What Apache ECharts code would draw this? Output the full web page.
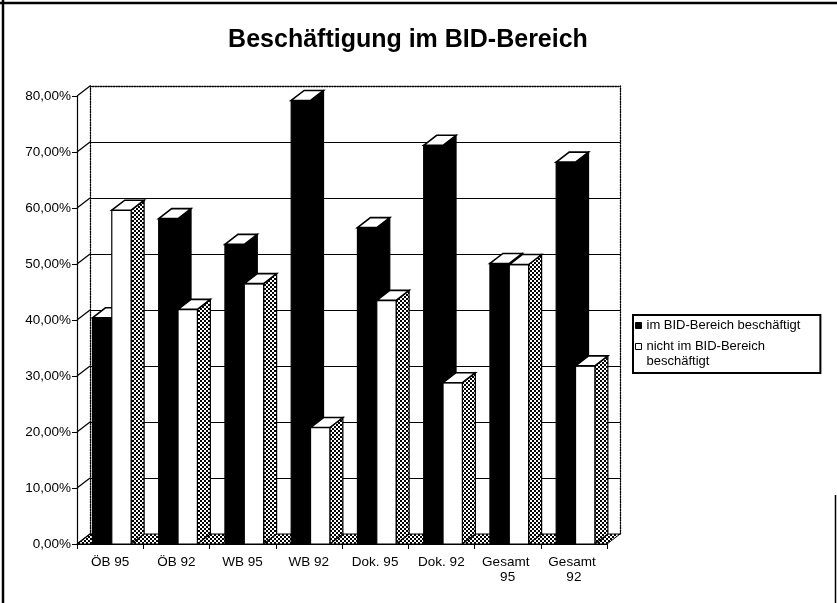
<!DOCTYPE html>
<html><head><meta charset="utf-8">
<script src="https://cdn.jsdelivr.net/npm/echarts@6/dist/echarts.min.js"></script>
<style>html,body{margin:0;padding:0;background:#fff}#c{width:837px;height:603px}</style>
</head><body><div id="c"></div>
<script>
const categories = ['ÖB 95', 'ÖB 92', 'WB 95', 'WB 92', 'Dok. 95', 'Dok. 92', 'Gesamt 95', 'Gesamt 92'];
const seriesNames = ['im BID-Bereich beschäftigt', 'nicht im BID-Bereich beschäftigt'];
const employed = [0.404, 0.581, 0.535, 0.792, 0.565, 0.712, 0.501, 0.682];
const notEmployed = [0.596, 0.419, 0.465, 0.208, 0.435, 0.288, 0.499, 0.318];
const yTicks = [0, 0.1, 0.2, 0.3, 0.4, 0.5, 0.6, 0.7, 0.8];
const titleText = 'Beschäftigung im BID-Bereich';

const FONT = '"Liberation Sans", Arial, sans-serif';
const DX = 13, DY = 10;

const pc = document.createElement('canvas');
pc.width = 4; pc.height = 4;
const g = pc.getContext('2d');
g.fillStyle = '#fff'; g.fillRect(0, 0, 4, 4);
g.fillStyle = '#000'; g.fillRect(0, 0, 2, 2); g.fillRect(2, 2, 2, 2);
const hatch = { image: pc, repeat: 'repeat' };

function pct(v) { return (v * 100).toFixed(2).replace('.', ',') + '%'; }

function barRender(which) {
  return function (params, api) {
    const i = api.value(0), v = api.value(1);
    const base = api.coord([i, 0]);
    const top = api.coord([i, v]);
    const W = api.size([1, 0])[0];
    const left = base[0] - W / 2;
    const bw = W * 0.292;
    const x0 = left + W * 0.233 + (which === 1 ? bw : 0);
    const x1 = x0 + bw;
    const y0 = base[1], yt = top[1];
    return {
      type: 'group',
      children: [
        { type: 'polygon', shape: { points: [[x1, yt], [x1 + DX, yt - DY], [x1 + DX, y0 - DY], [x1, y0]] },
          style: { fill: which === 0 ? '#000' : hatch, stroke: '#000', lineWidth: 1.2 } },
        { type: 'rect', shape: { x: x0, y: yt, width: bw, height: y0 - yt },
          style: { fill: which === 0 ? '#000' : '#fff', stroke: '#000', lineWidth: 1.2 } },
        { type: 'polygon', shape: { points: [[x0, yt], [x0 + DX, yt - DY], [x1 + DX, yt - DY], [x1, yt]] },
          style: { fill: '#fff', stroke: '#000', lineWidth: 1.6 } }
      ]
    };
  };
}

const chart = echarts.init(document.getElementById('c'), null, { renderer: 'canvas' });
chart.setOption({
  backgroundColor: '#fff',
  animation: false,
  title: {
    text: titleText, left: 408, top: 28, textAlign: 'center', padding: 0,
    textStyle: { fontFamily: FONT, fontSize: 25, fontWeight: 'bold', color: '#000' }
  },
  legend: {
    orient: 'vertical', left: 633, top: 315, selectedMode: false,
    data: [
      { name: seriesNames[0], itemStyle: { color: '#000', borderColor: '#000', borderWidth: 1 } },
      { name: seriesNames[1], itemStyle: { color: '#fff', borderColor: '#000', borderWidth: 1 } }
    ],
    icon: 'rect', itemWidth: 6, itemHeight: 6, itemGap: -9,
    formatter: function (n) { return n === seriesNames[1] ? '\nnicht im BID-Bereich\nbeschäftigt' : n; },
    textStyle: { fontFamily: FONT, fontSize: 13, lineHeight: 15, color: '#000' },
    borderColor: '#000', borderWidth: 2, padding: [3, 20, 4, 2]
  },
  grid: [
    { left: 77, right: 230, top: 96, bottom: 59 },
    { left: 90, right: 217, top: 86, bottom: 69 }
  ],
  xAxis: [
    { type: 'category', gridIndex: 0, data: categories, boundaryGap: true,
      axisLine: { lineStyle: { color: '#000', width: 1.2 } },
      axisTick: { show: true, interval: 0, length: 5, lineStyle: { color: '#000' } },
      axisLabel: { interval: 0, color: '#000', fontFamily: FONT, fontSize: 13.5, lineHeight: 15, margin: 11, width: 62, overflow: 'break' },
      splitLine: { show: false } },
    { type: 'value', gridIndex: 1, min: 0, max: 1, position: 'top',
      axisLine: { show: true, onZero: false, lineStyle: { color: '#000', type: 'dotted', width: 1.3 } },
      axisTick: { show: false }, axisLabel: { show: false }, splitLine: { show: false } }
  ],
  yAxis: [
    { type: 'value', gridIndex: 0, min: 0, max: 0.8, interval: 0.1, position: 'left',
      axisLine: { show: true, lineStyle: { color: '#000', width: 1.2 } },
      axisTick: { show: true, length: 5, lineStyle: { color: '#000' } },
      axisLabel: { formatter: pct, color: '#000', fontFamily: FONT, fontSize: 13.5, margin: 6 },
      splitLine: { show: false } },
    { type: 'value', gridIndex: 1, min: 0, max: 0.8, interval: 0.1, position: 'left',
      axisLine: { show: true, onZero: false, lineStyle: { color: '#000', type: 'dotted', width: 1.3 } },
      axisTick: { show: false }, axisLabel: { show: false },
      splitLine: { show: true, showMaxLine: false, lineStyle: { color: '#000', width: 1.2 } } },
    { type: 'value', gridIndex: 1, min: 0, max: 0.8, interval: 0.1, position: 'right',
      axisLine: { show: true, onZero: false, lineStyle: { color: '#000', type: 'dotted', width: 1.3 } },
      axisTick: { show: false }, axisLabel: { show: false }, splitLine: { show: false } }
  ],
  graphic: [
    { type: 'line', shape: { x1: 3, y1: 0, x2: 3, y2: 603 }, style: { stroke: '#000', lineWidth: 2.5 } },
    { type: 'line', shape: { x1: 0, y1: 3, x2: 837, y2: 3 }, style: { stroke: '#000', lineWidth: 2.5 } },
    { type: 'line', shape: { x1: 835.5, y1: 495, x2: 835.5, y2: 603 }, style: { stroke: '#000', lineWidth: 1.5 } }
  ],
  series: [
    { type: 'custom', name: 'floor', xAxisIndex: 0, yAxisIndex: 0, silent: true, z: 1,
      data: [[0, 0]], encode: { x: 0, y: 1 },
      renderItem: function (params, api) {
        const cs = params.coordSys;
        const y0 = api.coord([0, 0])[1];
        return { type: 'polygon',
          shape: { points: [[cs.x, y0], [cs.x + cs.width, y0], [cs.x + cs.width + DX, y0 - DY], [cs.x + DX, y0 - DY]] },
          style: { fill: hatch, stroke: '#000', lineWidth: 1 } };
      } },
    { type: 'custom', name: 'connectors', xAxisIndex: 0, yAxisIndex: 0, silent: true, z: 1,
      data: yTicks.map(function (v) { return [0, v]; }), encode: { x: 0, y: 1 },
      renderItem: function (params, api) {
        const cs = params.coordSys;
        const y = api.coord([0, api.value(1)])[1];
        return { type: 'line', shape: { x1: cs.x, y1: y, x2: cs.x + DX, y2: y - DY },
          style: { stroke: '#000', lineWidth: 1.2 } };
      } },
    { type: 'custom', name: seriesNames[0], xAxisIndex: 0, yAxisIndex: 0, z: 3,
      itemStyle: { color: '#000' },
      data: employed.map(function (v, i) { return [i, v]; }), encode: { x: 0, y: 1 },
      renderItem: barRender(0) },
    { type: 'custom', name: seriesNames[1], xAxisIndex: 0, yAxisIndex: 0, z: 4,
      itemStyle: { color: '#fff', borderColor: '#000' },
      data: notEmployed.map(function (v, i) { return [i, v]; }), encode: { x: 0, y: 1 },
      renderItem: barRender(1) }
  ]
});
</script></body></html>
